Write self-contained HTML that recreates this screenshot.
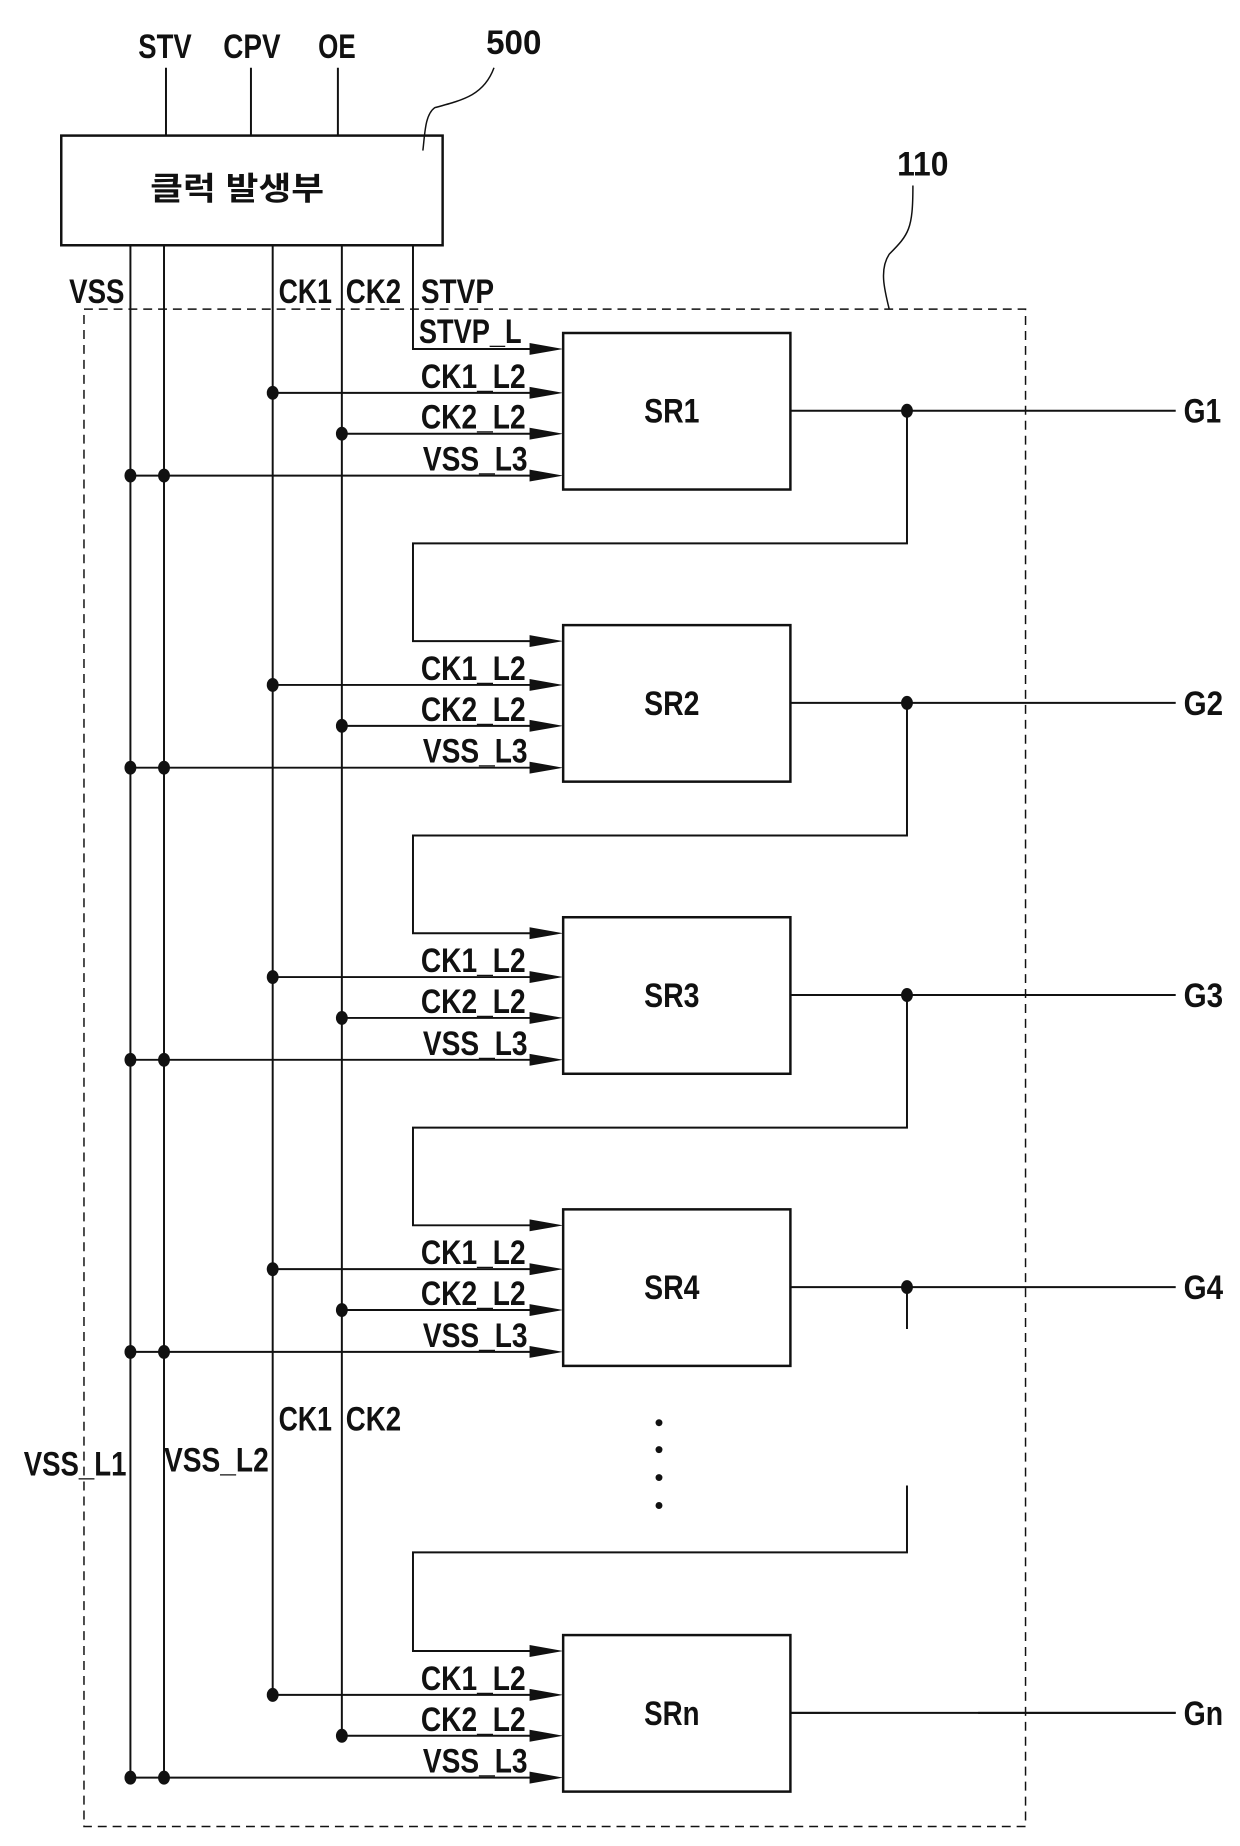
<!DOCTYPE html>
<html><head><meta charset="utf-8"><style>
html,body{margin:0;padding:0;background:#fff;}
svg{display:block;}
text{font-family:"Liberation Sans","Noto Sans CJK KR",sans-serif;font-weight:bold;fill:#111;}
</style></head><body>
<svg width="1240" height="1846" viewBox="0 0 1240 1846" xmlns="http://www.w3.org/2000/svg">
<defs>
<g id="arrow"><polygon points="0,-6 34,0 0,6" fill="#111"/></g>
</defs>
<g transform="scale(0.988,0.997)">
<g stroke="#111" stroke-width="2" fill="none">
<line x1="168" y1="68" x2="168" y2="136"/>
<line x1="254" y1="68" x2="254" y2="136"/>
<line x1="342" y1="68" x2="342" y2="136"/>
<rect x="62" y="136" width="386" height="110" stroke-width="2.5"/>
<path d="M500,68 C490,95 470,100 440,108 C430,115 430,135 428,151" stroke-width="1.5"/>
<path d="M924,186 C924,230 920,235 900,255 C890,270 895,290 900,310" stroke-width="1.5"/>
<rect x="85" y="310" width="953" height="1522" stroke-dasharray="9,6" stroke-width="1.5"/>
<line x1="132" y1="246" x2="132" y2="1784"/>
<line x1="166" y1="246" x2="166" y2="1784"/>
<line x1="276" y1="246" x2="276" y2="1701"/>
<line x1="346" y1="246" x2="346" y2="1743"/>
<polyline points="418,246 418,350 540,350"/>
</g>
<g font-size="34">
<text x="140" y="58" textLength="54" lengthAdjust="spacingAndGlyphs">STV</text>
<text x="226" y="58" textLength="58" lengthAdjust="spacingAndGlyphs">CPV</text>
<text x="322" y="58" textLength="38" lengthAdjust="spacingAndGlyphs">OE</text>
<text x="492" y="54" textLength="56" lengthAdjust="spacingAndGlyphs">500</text>
<text x="908" y="176" textLength="52" lengthAdjust="spacingAndGlyphs">110</text>
<text x="152" y="200" font-size="32" textLength="176" lengthAdjust="spacingAndGlyphs">클럭 발생부</text>
<text x="70" y="304" textLength="56" lengthAdjust="spacingAndGlyphs">VSS</text>
<text x="282" y="304" textLength="54" lengthAdjust="spacingAndGlyphs">CK1</text>
<text x="350" y="304" textLength="56" lengthAdjust="spacingAndGlyphs">CK2</text>
<text x="426" y="304" textLength="74" lengthAdjust="spacingAndGlyphs">STVP</text>
<text x="424" y="344" textLength="104" lengthAdjust="spacingAndGlyphs">STVP_L</text>
<text x="282" y="1435" textLength="54" lengthAdjust="spacingAndGlyphs">CK1</text>
<text x="350" y="1435" textLength="56" lengthAdjust="spacingAndGlyphs">CK2</text>
<text x="24" y="1480" textLength="104" lengthAdjust="spacingAndGlyphs">VSS_L1</text>
<text x="166" y="1476" textLength="106" lengthAdjust="spacingAndGlyphs">VSS_L2</text>
</g>
<use href="#arrow" x="536" y="350"/>
<g fill="#111">
<circle cx="667" cy="1427" r="3.5"/><circle cx="667" cy="1454" r="3.5"/>
<circle cx="667" cy="1482" r="3.5"/><circle cx="667" cy="1510" r="3.5"/>
</g>
<g id="s0">
<g stroke="#111" stroke-width="2" fill="none">
<rect x="570" y="334" width="230" height="157" stroke-width="2.5"/>
<line x1="276" y1="394" x2="540" y2="394"/>
<line x1="346" y1="435" x2="540" y2="435"/>
<line x1="132" y1="477" x2="540" y2="477"/>
<line x1="800" y1="412" x2="1190" y2="412"/>
</g>
<use href="#arrow" x="536" y="394"/><use href="#arrow" x="536" y="435"/><use href="#arrow" x="536" y="477"/>
<g fill="#111"><ellipse cx="276" cy="394" rx="6" ry="7"/><ellipse cx="346" cy="435" rx="6" ry="7"/>
<ellipse cx="132" cy="477" rx="6" ry="7"/><ellipse cx="166" cy="477" rx="6" ry="7"/></g>
<g font-size="34">
<text x="426" y="389" textLength="106" lengthAdjust="spacingAndGlyphs">CK1_L2</text>
<text x="426" y="430" textLength="106" lengthAdjust="spacingAndGlyphs">CK2_L2</text>
<text x="428" y="472" textLength="106" lengthAdjust="spacingAndGlyphs">VSS_L3</text>
</g>
</g>
<g font-size="34">
<text x="652" y="424" textLength="56" lengthAdjust="spacingAndGlyphs">SR1</text>
<text x="1198" y="424" textLength="38" lengthAdjust="spacingAndGlyphs">G1</text>
<text x="652" y="717" textLength="56" lengthAdjust="spacingAndGlyphs">SR2</text>
<text x="1198" y="717" textLength="40" lengthAdjust="spacingAndGlyphs">G2</text>
<text x="652" y="1010" textLength="56" lengthAdjust="spacingAndGlyphs">SR3</text>
<text x="1198" y="1010" textLength="40" lengthAdjust="spacingAndGlyphs">G3</text>
<text x="652" y="1303" textLength="56" lengthAdjust="spacingAndGlyphs">SR4</text>
<text x="1198" y="1303" textLength="40" lengthAdjust="spacingAndGlyphs">G4</text>
<text x="652" y="1730" textLength="56" lengthAdjust="spacingAndGlyphs">SRn</text>
<text x="1198" y="1730" textLength="40" lengthAdjust="spacingAndGlyphs">Gn</text>
</g>
<use href="#s0" y="293"/><use href="#s0" y="586"/><use href="#s0" y="879"/><use href="#s0" y="1306"/>
<g stroke="#111" stroke-width="2" fill="none">
<polyline points="918,412 918,545 418,545 418,643 540,643"/>
<polyline points="918,705 918,838 418,838 418,936 540,936"/>
<polyline points="918,998 918,1131 418,1131 418,1229 540,1229"/>
<line x1="918" y1="1291" x2="918" y2="1333"/>
<polyline points="918,1490 918,1557 418,1557 418,1656 540,1656"/>
</g>
<use href="#arrow" x="536" y="643"/><use href="#arrow" x="536" y="936"/><use href="#arrow" x="536" y="1229"/><use href="#arrow" x="536" y="1656"/>
<g fill="#111">
<ellipse cx="918" cy="412" rx="6" ry="7"/><ellipse cx="918" cy="705" rx="6" ry="7"/>
<ellipse cx="918" cy="998" rx="6" ry="7"/><ellipse cx="918" cy="1291" rx="6" ry="7"/>
</g>
<rect x="840" y="1711" width="150" height="14" fill="#fff"/>
<line x1="800" y1="1718" x2="1190" y2="1718" stroke="#111" stroke-width="2"/>
</g>
</svg>
</body></html>
